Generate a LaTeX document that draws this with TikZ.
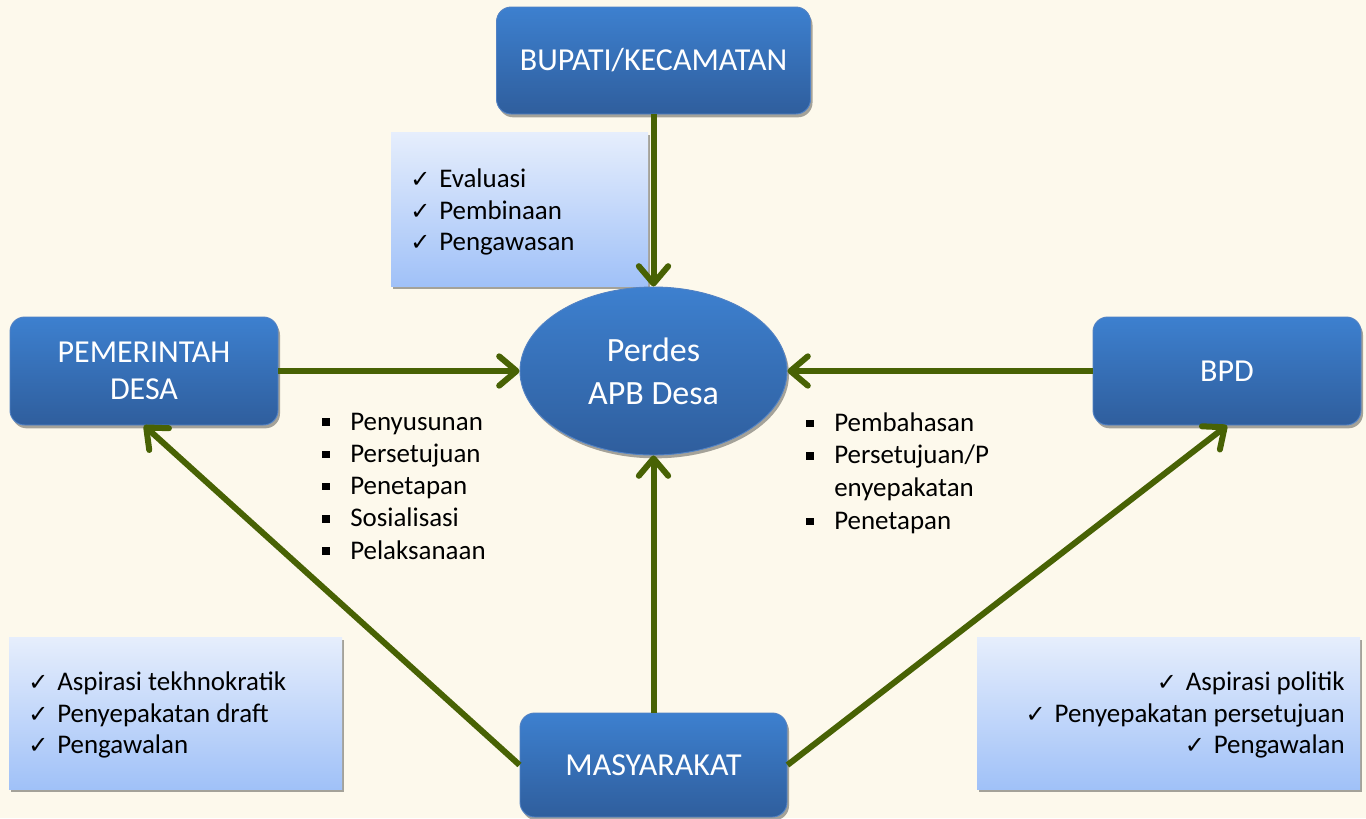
\documentclass[tikz,border=0pt]{standalone}
\usepackage{fontspec}
\setmainfont{Carlito}
\newfontfamily\checkfont{DejaVu Sans}
\usetikzlibrary{arrows.meta,shadows,shapes.geometric}
\definecolor{bgc}{RGB}{253,249,236}
\definecolor{btop}{RGB}{61,128,207}
\definecolor{bbot}{RGB}{47,94,157}
\definecolor{bline}{RGB}{82,130,196}
\definecolor{lbtop}{RGB}{230,238,252}
\definecolor{lbbot}{RGB}{160,193,248}
\definecolor{arrc}{RGB}{72,98,4}
\newcommand\ckm{\makebox[21.75pt][l]{\checkfont\fontsize{18}{18}\selectfont ✓}}
\newcommand\sqb{\makebox[21pt][l]{\rule[3.2pt]{5.5pt}{5.5pt}}}
\newcommand\sqe{\makebox[21pt][l]{}}
\tikzset{
  bluebox/.style={rounded corners=11pt, top color=btop, bottom color=bbot, draw=bline, line width=0.7pt,
    text=white, align=center, inner sep=0pt,
    drop shadow={shadow xshift=1.5pt, shadow yshift=-2.5pt, opacity=0.35, fill=black}},
  boxfont/.style={font=\fontsize{24}{28}\selectfont},
  lightbox/.style={top color=lbtop, bottom color=lbbot, draw=none, inner sep=0pt,
    drop shadow={shadow xshift=1.5pt, shadow yshift=-2.5pt, opacity=0.35, fill=black}},
  listtext/.style={font=\fontsize{20.2}{23.5}\selectfont, inner sep=0pt, text=black},
  conn/.style={draw=arrc, line width=4.5pt, -{Straight Barb[length=13pt,width=22pt,round]}}
}
\begin{document}
\begin{tikzpicture}[x=0.75pt,y=-0.75pt]
\fill[bgc] (0,0) rectangle (1366,818);
\useasboundingbox (0,0) rectangle (1366,818);

% light boxes
\node[lightbox, minimum width=192.75pt, minimum height=115.5pt] (evbox) at (519.5,209) {};
\node[lightbox, minimum width=249.75pt, minimum height=114pt] (lbbox) at (175.5,713) {};
\node[lightbox, minimum width=287.25pt, minimum height=114pt] (rbbox) at (1168.5,713) {};

% main boxes
\node[bluebox, boxfont, minimum width=235.5pt, minimum height=80.25pt] (bup) at (653.5,60.5) {BUPATI/KECAMATAN};
\node[bluebox, boxfont, minimum width=201pt, minimum height=81pt] (pem) at (144,371) {PEMERINTAH\\DESA};
\node[bluebox, boxfont, minimum width=201pt, minimum height=81pt] (bpd) at (1227,371) {BPD};
\node[bluebox, boxfont, minimum width=200.25pt, minimum height=78pt] (mas) at (653.5,765) {MASYARAKAT};
\node[ellipse, top color=btop, bottom color=bbot, draw=bline, line width=0.7pt, text=white, align=center,
  inner sep=0pt, minimum width=200.25pt, minimum height=126pt,
  drop shadow={shadow xshift=1.5pt, shadow yshift=-2.5pt, opacity=0.35, fill=black},
  font=\fontsize{25.5}{32}\selectfont] (ell) at (653.5,371) {Perdes\\APB Desa};

% texts
\node[listtext, anchor=west, align=left] (evtext) at (410,212) {\ckm Evaluasi\\\ckm Pembinaan\\\ckm Pengawasan};
\node[listtext, anchor=west, align=left] (lbtext) at (28,715) {\ckm Aspirasi tekhnokratik\\\ckm Penyepakatan draft\\\ckm Pengawalan};
\node[listtext, anchor=east, align=right] (rbtext) at (1345,715) {\ckm Aspirasi politik\\\ckm Penyepakatan persetujuan\\\ckm Pengawalan};
\node[listtext, anchor=west, align=left, font=\fontsize{20.2}{24.2}\selectfont] (ltext) at (322,486) {\sqb Penyusunan\\\sqb Persetujuan\\\sqb Penetapan\\\sqb Sosialisasi\\\sqb Pelaksanaan};
\node[listtext, anchor=west, align=left, font=\fontsize{20.2}{24.5}\selectfont] (rtext) at (806,473) {\sqb Pembahasan\\\sqb Persetujuan/P\\\sqe enyepakatan\\\sqb Penetapan};

% connectors
\draw[conn] (bup.south) -- (ell.north);
\draw[conn] (pem.east) -- (ell.west);
\draw[conn] (bpd.west) -- (ell.east);
\draw[conn] (mas.north) -- (ell.south);
\draw[conn] (mas.west) -- (pem.south);
\draw[conn] (mas.east) -- (bpd.south);
\end{tikzpicture}
\end{document}
